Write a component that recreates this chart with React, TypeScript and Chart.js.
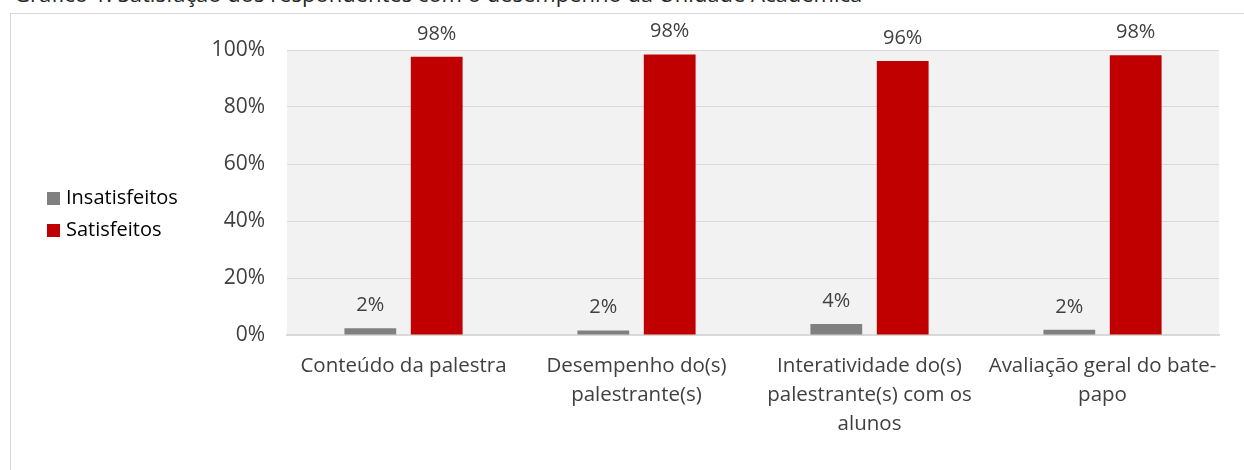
import React, { useEffect, useRef } from "react";
import { Chart, registerables } from "chart.js";

Chart.register(...registerables);

const TITLE = "Gráfico 1: Satisfação dos respondentes com o desempenho da Unidade Acadêmica";
const categories: string[][] = [
  ["Conteúdo da palestra"],
  ["Desempenho do(s)", "palestrante(s)"],
  ["Interatividade do(s)", "palestrante(s) com os", "alunos"],
  ["Avaliação geral do bate-", "papo"],
];
const seriesNames = ["Insatisfeitos", "Satisfeitos"];
const insatisfeitos = [2.4, 1.6, 3.9, 1.8];
const satisfeitos = [97.6, 98.4, 96.1, 98.2];
const seriesColors = ["#808080", "#c00000"];
const yTicks = [0, 20, 40, 60, 80, 100];

const FONT = "'Open Sans', sans-serif";

const bgPlugin = {
  id: "plotBg",
  beforeDraw(chart: any) {
    const { ctx, chartArea } = chart;
    ctx.save();
    ctx.fillStyle = "#f2f2f2";
    ctx.fillRect(chartArea.left, chartArea.top, chartArea.right - chartArea.left, chartArea.bottom - chartArea.top);
    ctx.restore();
  },
};

const labelPlugin = {
  id: "barLabels",
  afterDatasetsDraw(chart: any) {
    const { ctx } = chart;
    ctx.save();
    ctx.font = `20px ${FONT}`;
    ctx.fillStyle = "#404040";
    ctx.textAlign = "center";
    ctx.textBaseline = "middle";
    chart.data.datasets.forEach((ds: any, di: number) => {
      const meta = chart.getDatasetMeta(di);
      meta.data.forEach((bar: any, i: number) => {
        ctx.fillText(Math.round(ds.data[i]) + "%", bar.x, bar.y - 23);
      });
    });
    ctx.restore();
  },
};

const legendPlugin = {
  id: "customLegend",
  afterDraw(chart: any) {
    const { ctx } = chart;
    ctx.save();
    ctx.font = `20px ${FONT}`;
    ctx.textBaseline = "middle";
    chart.data.datasets.forEach((ds: any, di: number) => {
      const cy = 184.5 + di * 32;
      ctx.fillStyle = ds.backgroundColor;
      ctx.fillRect(36, cy - 6.5, 13, 13);
      ctx.fillStyle = "#000000";
      ctx.fillText(ds.label, 55, cy);
    });
    ctx.restore();
  },
};

export default function App() {
  const ref = useRef<HTMLCanvasElement | null>(null);
  useEffect(() => {
    if (!ref.current) return;
    const chart = new Chart(ref.current, {
      type: "bar",
      data: {
        labels: categories,
        datasets: [
          { label: seriesNames[0], data: insatisfeitos, backgroundColor: seriesColors[0] },
          { label: seriesNames[1], data: satisfeitos, backgroundColor: seriesColors[1] },
        ],
      },
      options: {
        animation: false,
        responsive: false,
        maintainAspectRatio: false,
        layout: { padding: { left: 0, right: 25, top: 36, bottom: 0 } },
        datasets: { bar: { categoryPercentage: 0.57, barPercentage: 0.78 } },
        plugins: { legend: { display: false }, tooltip: { enabled: false }, title: { display: false } },
        scales: {
          x: {
            grid: { display: false, drawTicks: false },
            border: { display: true, color: "#d9d9d9", width: 2 },
            ticks: {
              color: "#404040",
              font: { family: FONT, size: 20.5, lineHeight: "29px" as any },
              padding: 17,
              maxRotation: 0,
              autoSkip: false,
            },
            afterFit(s: any) { s.height = 135; },
          },
          y: {
            min: 0,
            max: 100,
            afterBuildTicks(s: any) { s.ticks = yTicks.map((v) => ({ value: v })); },
            grid: { color: "#d9d9d9", lineWidth: 1, drawTicks: false },
            border: { display: false },
            ticks: {
              color: "#404040",
              font: { family: FONT, size: 21 },
              padding: 22,
              callback: (v: any) => v + "%",
            },
            afterFit(s: any) { s.width = 276; },
          },
        },
      },
      plugins: [bgPlugin, labelPlugin, legendPlugin],
    });
    return () => chart.destroy();
  }, []);

  return (
    <div style={{ position: "fixed", left: 0, top: 0, width: 1244, height: 470, overflow: "hidden", background: "#fff" }}>
      <div style={{ position: "absolute", left: 14, top: -20, fontFamily: FONT, fontSize: 22, color: "#262626", whiteSpace: "nowrap", lineHeight: "26px" }}>
        {TITLE}
      </div>
      <div style={{ position: "absolute", left: 10, top: 13, width: 1260, height: 480, borderLeft: "1px solid #d9d9d9", borderTop: "1px solid #d9d9d9", boxSizing: "border-box" }}>
        <canvas ref={ref} width={1233} height={456} style={{ display: "block" }} />
      </div>
    </div>
  );
}
